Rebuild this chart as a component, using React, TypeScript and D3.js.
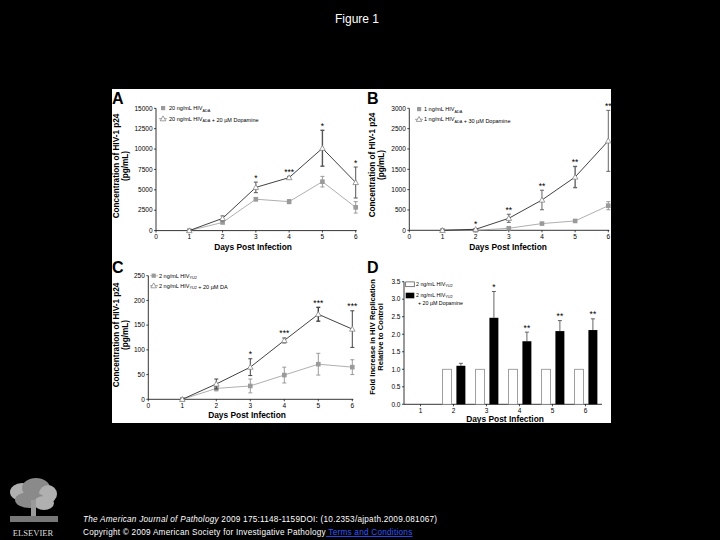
import React from "react";
import * as d3 from "d3";

// ---- data ----
const days = [1, 2, 3, 4, 5, 6];
const xTickDays = [0, 1, 2, 3, 4, 5, 6];

// Panel A: 20 ng/mL HIV ADA
const aVirus = [0, 1000, 3850, 3550, 6000, 2850];
const aVirusErr = [0, 150, 200, 250, 650, 700];
const aDopa = [0, 1500, 5300, 6500, 10100, 5900];
const aDopaErr = [0, 300, 650, 150, 2200, 1900];
const aStars = ["", "", "*", "***", "*", "*"];
const aTicks = [0, 2500, 5000, 7500, 10000, 12500, 15000];

// Panel B: 1 ng/mL HIV ADA
const bVirus = [0, 0, 50, 165, 230, 605];
const bVirusErr = [0, 0, 15, 20, 25, 100];
const bDopa = [0, 25, 295, 745, 1310, 2200];
const bDopaErr = [0, 10, 100, 240, 260, 750];
const bStars = ["", "*", "**", "**", "**", "**"];
const bTicks = [0, 500, 1000, 1500, 2000, 2500, 3000];

// Panel C: 2 ng/mL HIV YU2
const cVirus = [0, 22, 27, 49, 71, 65];
const cVirusErr = [0, 5, 14, 16, 22, 15];
const cDopa = [0, 31, 65, 119, 172, 142];
const cDopaErr = [0, 10, 17, 5, 14, 37];
const cStars = ["", "", "*", "***", "***", "***"];
const cTicks = [0, 50, 100, 150, 200, 250];

// Panel D: fold increase
const dControl = [0, 1, 1, 1, 1, 1];
const dDopa = [0, 1.1, 2.47, 1.8, 2.09, 2.12];
const dDopaErr = [0, 0.07, 0.75, 0.26, 0.3, 0.32];
const dStars = ["", "", "*", "**", "**", "**"];
const dTicks = [0, 0.5, 1, 1.5, 2, 2.5, 3, 3.5];

const FONT = "'Liberation Sans', Arial, Helvetica, sans-serif";
const GRAY = "#9a9a9a";

type LineProps = {
  x0: number;
  x6: number;
  y0: number;
  yTop: number;
  yMax: number;
  ticks: number[];
  virus: number[];
  virusErr: number[];
  dopa: number[];
  dopaErr: number[];
  stars: string[];
  dopaErrColor: string;
};

function Triangle({ cx, cy }: { cx: number; cy: number }) {
  const s = 2.8;
  return (
    <path
      d={`M${cx},${cy - s} L${cx + s},${cy + s * 0.75} L${cx - s},${cy + s * 0.75} Z`}
      fill="#fff"
      stroke="#777"
      strokeWidth={0.7}
    />
  );
}

function Square({ cx, cy }: { cx: number; cy: number }) {
  return <rect x={cx - 2.3} y={cy - 2.3} width={4.6} height={4.6} fill={GRAY} />;
}

function ErrBar({ x, yHi, yLo, color, w = 1 }: { x: number; yHi: number; yLo: number; color: string; w?: number }) {
  return (
    <g stroke={color} strokeWidth={w}>
      <line x1={x} x2={x} y1={yHi} y2={yLo} />
      <line x1={x - 2} x2={x + 2} y1={yHi} y2={yHi} />
      <line x1={x - 2} x2={x + 2} y1={yLo} y2={yLo} />
    </g>
  );
}

function LinePanel(p: LineProps) {
  const x = d3.scaleLinear().domain([0, 6]).range([p.x0, p.x6]);
  const y = d3.scaleLinear().domain([0, p.yMax]).range([p.y0, p.yTop]);
  const line = d3
    .line<number>()
    .x((_, i) => x(days[i]))
    .y((d) => y(d));
  return (
    <g fontFamily={FONT}>
      {/* axes */}
      <line x1={p.x0} x2={p.x0} y1={p.y0} y2={p.yTop} stroke="#000" strokeWidth={0.8} />
      <line x1={p.x0} x2={p.x6 + 1} y1={p.y0} y2={p.y0} stroke="#000" strokeWidth={0.8} />
      {p.ticks.map((t) => (
        <g key={t}>
          <line x1={p.x0 - 2} x2={p.x0} y1={y(t)} y2={y(t)} stroke="#000" strokeWidth={0.7} />
          <text x={p.x0 - 3.5} y={y(t)} dy="0.35em" textAnchor="end" fontSize={6.5}>
            {t}
          </text>
        </g>
      ))}
      {xTickDays.map((t) => (
        <g key={t}>
          <line x1={x(t)} x2={x(t)} y1={p.y0} y2={p.y0 + 2} stroke="#000" strokeWidth={0.7} />
          <text x={x(t)} y={p.y0 + 8.5} textAnchor="middle" fontSize={6.5}>
            {t}
          </text>
        </g>
      ))}
      {/* virus only series */}
      <path d={line(p.virus) || ""} fill="none" stroke={GRAY} strokeWidth={0.8} />
      {p.virus.map((v, i) =>
        p.virusErr[i] > 0 ? (
          <ErrBar key={i} x={x(days[i])} yHi={y(v + p.virusErr[i])} yLo={y(v - p.virusErr[i])} color={GRAY} />
        ) : null
      )}
      {p.virus.map((v, i) => (
        <Square key={i} cx={x(days[i])} cy={y(v)} />
      ))}
      {/* virus + dopamine */}
      <path d={line(p.dopa) || ""} fill="none" stroke="#111" strokeWidth={0.8} />
      {p.dopa.map((v, i) =>
        p.dopaErr[i] > 0 ? (
          <ErrBar
            key={i}
            x={x(days[i])}
            yHi={y(v + p.dopaErr[i])}
            yLo={y(v - p.dopaErr[i])}
            color={p.dopaErrColor}
            w={i === 4 ? 1.4 : 1}
          />
        ) : null
      )}
      {p.dopa.map((v, i) => (
        <Triangle key={i} cx={x(days[i])} cy={y(v)} />
      ))}
      {p.stars.map((s, i) =>
        s ? (
          <text key={i} x={x(days[i])} y={y(p.dopa[i] + p.dopaErr[i]) - 1.5} textAnchor="middle" fontSize={8.5}>
            {s}
          </text>
        ) : null
      )}
    </g>
  );
}

function YTitle({ cx, cy, lines, size = 8.2, gap = 9 }: { cx: number; cy: number; lines: string[]; size?: number; gap?: number }) {
  return (
    <g fontFamily={FONT} fontSize={size} fontWeight="bold" textAnchor="middle">
      {lines.map((l, i) => (
        <text key={i} transform={`translate(${cx + i * gap},${cy}) rotate(-90)`}>
          {l}
        </text>
      ))}
    </g>
  );
}

function XTitle({ cx, y }: { cx: number; y: number }) {
  return (
    <text x={cx} y={y} textAnchor="middle" fontFamily={FONT} fontSize={8.4} fontWeight="bold">
      Days Post Infection
    </text>
  );
}

function Sub({ s }: { s: string }) {
  return (
    <>
      <tspan fontSize={3.8} dy={1.3}>
        {s}
      </tspan>
      <tspan dy={-1.3}>{""}</tspan>
    </>
  );
}

function BarPanel() {
  const x0 = 404;
  const x1 = 602;
  const y0 = 404.3;
  const yTop = 281.7;
  const x = d3.scaleBand<number>().domain(days).range([x0, x1]);
  const bw = x.bandwidth();
  const inner = d3
    .scaleBand<string>()
    .domain(["ctrl", "da"])
    .range([bw * 0.17, bw * 0.86])
    .paddingInner(0.35);
  const y = d3.scaleLinear().domain([0, 3.5]).range([y0, yTop]);
  return (
    <g fontFamily={FONT}>
      <line x1={x0} x2={x0} y1={y0} y2={yTop} stroke="#000" strokeWidth={0.8} />
      <line x1={x0} x2={x1} y1={y0} y2={y0} stroke="#000" strokeWidth={0.8} />
      {dTicks.map((t) => (
        <g key={t}>
          <line x1={x0 - 2} x2={x0} y1={y(t)} y2={y(t)} stroke="#000" strokeWidth={0.7} />
          <text x={x0 - 3.5} y={y(t)} dy="0.35em" textAnchor="end" fontSize={6.5}>
            {t.toFixed(1)}
          </text>
        </g>
      ))}
      {days.map((d) => {
        const c = (x(d) || 0) + bw / 2;
        return (
          <g key={d}>
            <line x1={c} x2={c} y1={y0} y2={y0 + 2} stroke="#000" strokeWidth={0.7} />
            <text x={c} y={y0 + 8.5} textAnchor="middle" fontSize={6.5}>
              {d}
            </text>
          </g>
        );
      })}
      {days.map((d, i) => {
        const bx = x(d) || 0;
        if (dControl[i] <= 0) return null;
        const cx = bx + (inner("ctrl") || 0);
        const dx = bx + (inner("da") || 0);
        const ib = inner.bandwidth();
        const top = y(dDopa[i] + dDopaErr[i]);
        return (
          <g key={d}>
            <rect x={cx} y={y(dControl[i])} width={ib} height={y0 - y(dControl[i])} fill="#fff" stroke="#888" strokeWidth={0.8} />
            <line x1={dx + ib / 2} x2={dx + ib / 2} y1={top} y2={y(dDopa[i])} stroke="#555" strokeWidth={0.9} />
            <line x1={dx + ib / 2 - 2} x2={dx + ib / 2 + 2} y1={top} y2={top} stroke="#555" strokeWidth={0.9} />
            <rect x={dx} y={y(dDopa[i])} width={ib} height={y0 - y(dDopa[i])} fill="#000" />
            {dStars[i] ? (
              <text x={dx + ib / 2} y={top - 1.5} textAnchor="middle" fontSize={8.5}>
                {dStars[i]}
              </text>
            ) : null}
          </g>
        );
      })}
      {/* legend */}
      <rect x={405.7} y={281.9} width={8.6} height={4.8} fill="#fff" stroke="#444" strokeWidth={0.7} />
      <text x={416} y={286} fontSize={5.3}>
        2 ng/mL HIV
        <Sub s="YU2" />
      </text>
      <rect x={405.7} y={292.7} width={8.6} height={5.6} fill="#000" />
      <text x={416} y={297} fontSize={5.3}>
        2 ng/mL HIV
        <Sub s="YU2" />
      </text>
      <text x={418} y={304.5} fontSize={5.3}>
        + 20 µM Dopamine
      </text>
    </g>
  );
}

function Logo() {
  // rough stand-in for the publisher's tree emblem
  const blobs = [
    [22, 492, 12, 9],
    [36, 488, 14, 10],
    [48, 494, 9, 9],
    [30, 500, 15, 8],
    [44, 503, 10, 7],
  ];
  return (
    <g>
      {blobs.map(([cx, cy, rx, ry], i) => (
        <ellipse key={i} cx={cx} cy={cy} rx={rx} ry={ry} fill={i % 2 ? "#8a8a8a" : "#b0b0b0"} />
      ))}
      <rect x={31} y={500} width={5} height={20} fill="#9a9a9a" />
      <rect x={10} y={516} width={48} height={6} fill="#777" />
      <text x={33} y={536} textAnchor="middle" fontFamily="'Liberation Serif', 'DejaVu Serif', serif" fontSize={8.6} fill="#ddd">
        ELSEVIER
      </text>
    </g>
  );
}

export default function App() {
  return (
    <div style={{ position: "absolute", left: 0, top: 0, width: 720, height: 540, background: "#000" }}>
      <svg width={720} height={540} style={{ display: "block" }}>
        <rect width={720} height={540} fill="#000" />
        <text x={357} y={23} textAnchor="middle" fill="#fff" fontFamily={FONT} fontSize={12}>
          Figure 1
        </text>
        <rect x={112} y={89} width={499} height={334} fill="#fff" />

        {/* panel letters */}
        <g fontFamily={FONT} fontWeight="bold" fontSize={16}>
          <text x={112} y={104}>A</text>
          <text x={367} y={104}>B</text>
          <text x={112} y={273}>C</text>
          <text x={367} y={273}>D</text>
        </g>

        {/* Panel A */}
        <LinePanel
          x0={156}
          x6={355.7}
          y0={230.6}
          yTop={108.3}
          yMax={15000}
          ticks={aTicks}
          virus={aVirus}
          virusErr={aVirusErr}
          dopa={aDopa}
          dopaErr={aDopaErr}
          stars={aStars}
          dopaErrColor="#555"
        />
        <YTitle cx={119} cy={166} lines={["Concentration of HIV-1 p24", "(pg/mL)"]} />
        <XTitle cx={253} y={250} />
        <g fontFamily={FONT} fontSize={5.5}>
          <rect x={161} y={106} width={4.2} height={4.2} fill={GRAY} />
          <text x={169} y={110.2}>
            20 ng/mL HIV
            <Sub s="ADA" />
          </text>
          <line x1={159} x2={167} y1={118.7} y2={118.7} stroke="#666" strokeWidth={0.6} />
          <Triangle cx={163} cy={118.7} />
          <text x={169} y={120.6}>
            20 ng/mL HIV
            <Sub s="ADA" />
            <tspan> + 20 µM Dopamine</tspan>
          </text>
        </g>

        {/* Panel B */}
        <LinePanel
          x0={409.3}
          x6={608.3}
          y0={230.3}
          yTop={108.3}
          yMax={3000}
          ticks={bTicks}
          virus={bVirus}
          virusErr={bVirusErr}
          dopa={bDopa}
          dopaErr={bDopaErr}
          stars={bStars}
          dopaErrColor="#666"
        />
        <YTitle cx={375} cy={165} lines={["Concentration of HIV-1 p24", "(pg/mL)"]} />
        <XTitle cx={508} y={250} />
        <g fontFamily={FONT} fontSize={5.5}>
          <rect x={417} y={107} width={4.2} height={4.2} fill={GRAY} />
          <text x={424} y={111.2}>
            1 ng/mL HIV
            <Sub s="ADA" />
          </text>
          <line x1={415} x2={423} y1={119.3} y2={119.3} stroke="#666" strokeWidth={0.6} />
          <Triangle cx={419} cy={119.3} />
          <text x={424} y={121.2}>
            1 ng/mL HIV
            <Sub s="ADA" />
            <tspan> + 30 µM Dopamine</tspan>
          </text>
        </g>

        {/* Panel C */}
        <LinePanel
          x0={148.3}
          x6={352.3}
          y0={399.3}
          yTop={275.7}
          yMax={250}
          ticks={cTicks}
          virus={cVirus}
          virusErr={cVirusErr}
          dopa={cDopa}
          dopaErr={cDopaErr}
          stars={cStars}
          dopaErrColor="#444"
        />
        <YTitle cx={119} cy={335} lines={["Concentration of HIV-1 p24", "(pg/mL)"]} />
        <XTitle cx={247} y={417.5} />
        <g fontFamily={FONT} fontSize={5.5}>
          <line x1={150} x2={158} y1={275.7} y2={275.7} stroke={GRAY} strokeWidth={0.6} />
          <rect x={151.6} y={273.6} width={4.2} height={4.2} fill={GRAY} />
          <text x={159} y={277.6}>
            2 ng/mL HIV
            <Sub s="YU2" />
          </text>
          <line x1={150} x2={158} y1={285.7} y2={285.7} stroke="#666" strokeWidth={0.6} />
          <Triangle cx={153.7} cy={285.7} />
          <text x={159} y={287.6}>
            2 ng/mL HIV
            <Sub s="YU2" />
            <tspan> + 20 µM DA</tspan>
          </text>
        </g>

        {/* Panel D */}
        <BarPanel />
        <YTitle cx={374.5} cy={337} size={7.6} gap={8.5} lines={["Fold Increase in HIV Replication", "Relative to Control"]} />
        <XTitle cx={505} y={422} />

        {/* footer */}
        <Logo />
        <g fontFamily={FONT} fontSize={8.2} fill="#fff" letterSpacing={0.25}>
          <text x={83} y={522}>
            <tspan fontStyle="italic">The American Journal of Pathology</tspan>
            <tspan> 2009 175:1148-1159DOI: (10.2353/ajpath.2009.081067)</tspan>
          </text>
          <text x={83} y={535}>
            Copyright © 2009 American Society for Investigative Pathology
            <tspan fill="#3355ff" textDecoration="underline"> Terms and Conditions</tspan>
          </text>
        </g>
      </svg>
    </div>
  );
}
